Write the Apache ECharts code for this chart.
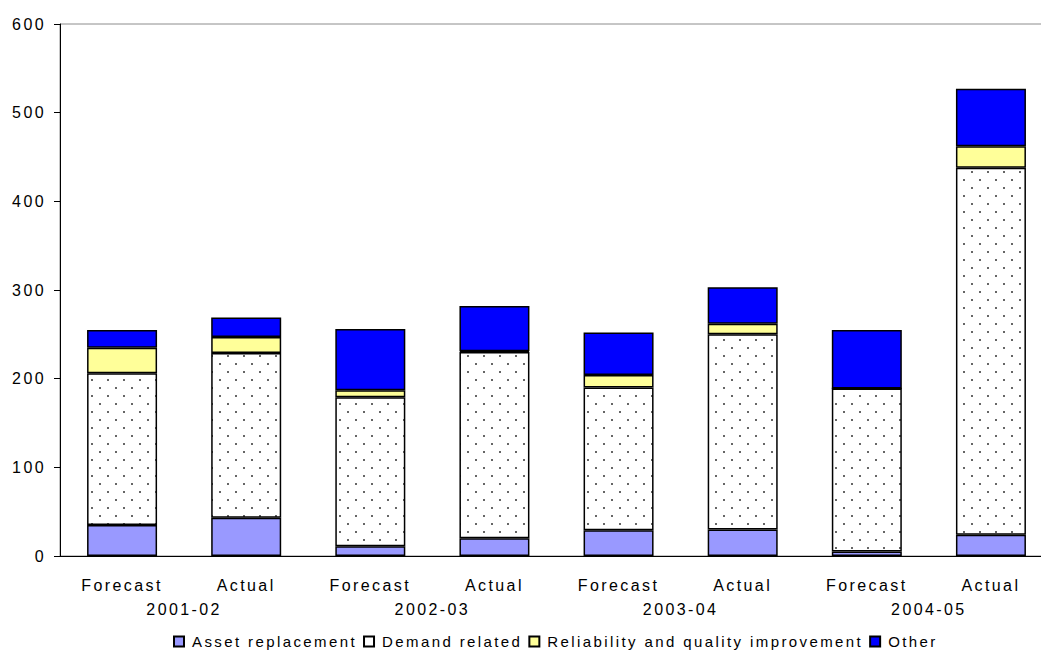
<!DOCTYPE html>
<html>
<head>
<meta charset="utf-8">
<title>Capital expenditure: forecast vs actual</title>
<script src="https://cdn.jsdelivr.net/npm/echarts@6/dist/echarts.min.js"></script>
<style>
  html, body { margin: 0; padding: 0; background: #ffffff; overflow: hidden; }
  /* plot area runs past the right edge of the window */
  #chart { width: 1070px; height: 654px; }
  #chart text { letter-spacing: 2.4px; }
</style>
</head>
<body>
<div id="chart"></div>
<script>
// Bar categories and year groups along the horizontal axis
const categories = ['Forecast', 'Actual', 'Forecast', 'Actual', 'Forecast', 'Actual', 'Forecast', 'Actual'];
const years = ['2001-02', '2002-03', '2003-04', '2004-05'];

// Stacked components of each bar
const assetReplacement = [35, 43, 11, 20, 29, 30, 5, 24];
const demandRelated = [171, 186, 168, 210, 161, 220, 184, 414];
const reliabilityQuality = [29, 18, 8, 1, 14, 12, 0, 24];
const other = [20, 22, 69, 51, 48, 41, 66, 65];

const seriesNames = ['Asset replacement', 'Demand related', 'Reliability and quality improvement', 'Other'];
const seriesColors = ['#9999ff', null, '#ffff99', '#0000ff'];

// Value axis range
const yMin = 0, yMax = 600, yStep = 100;

const FONT_FAMILY = 'Liberation Sans, Arial, sans-serif';
const FONT_SIZE = 16;
const LEGEND_FONT_SIZE = 15;
const LETTER_SPACING = 2.4;

// Dotted fill for the "Demand related" segments
function dotPattern() {
  const c = document.createElement('canvas');
  c.width = 16; c.height = 16;
  const ctx = c.getContext('2d');
  ctx.fillStyle = '#ffffff';
  ctx.fillRect(0, 0, 16, 16);
  ctx.fillStyle = '#333333';
  [[4, 4], [12, 12]].forEach(([x, y]) => {
    ctx.beginPath();
    ctx.arc(x, y, 1.0, 0, Math.PI * 2);
    ctx.fill();
  });
  return c.toDataURL();
}

// Width of a legend label including the extra letter spacing
const measureCtx = document.createElement('canvas').getContext('2d');
measureCtx.font = LEGEND_FONT_SIZE + 'px ' + FONT_FAMILY;
function labelWidth(s) {
  return measureCtx.measureText(s).width + s.length * LETTER_SPACING;
}

const chart = echarts.init(document.getElementById('chart'), null, { renderer: 'svg' });

function barSeries(name, data, color) {
  return {
    name, type: 'bar', stack: 'total', data,
    barWidth: 70,
    itemStyle: { color, borderColor: '#000000', borderWidth: 1.5 },
    emphasis: { disabled: true }
  };
}

const labelStyle = { color: '#000000', fontFamily: FONT_FAMILY, fontSize: FONT_SIZE };

// One legend block per series, laid out left to right
const LEGEND_LEFT = 173, ICON = 10, ICON_TEXT_GAP = 8, ITEM_GAP = 7;
const legends = [];
let cursor = LEGEND_LEFT;
seriesNames.forEach((name, i) => {
  legends.push({
    left: cursor, top: 634, padding: 0,
    itemWidth: ICON, itemHeight: ICON,
    selectedMode: false,
    textStyle: { color: '#000000', fontFamily: FONT_FAMILY, fontSize: LEGEND_FONT_SIZE, padding: [0, 0, 0, ICON_TEXT_GAP - 5] },
    data: [i === 1 ? { name, icon: 'rect', itemStyle: { color: '#ffffff' } } : { name, icon: 'rect' }]
  });
  cursor += ICON + ICON_TEXT_GAP + labelWidth(name) + ITEM_GAP;
});

chart.setOption({
  animation: false,
  backgroundColor: '#ffffff',
  grid: {
    left: 60, top: 24, width: 993, height: 532,
    show: true, borderColor: '#8c8c8c', borderWidth: 1
  },
  xAxis: [
    {
      type: 'category', data: categories, gridIndex: 0,
      axisLine: { lineStyle: { color: '#000000', width: 1 } },
      axisTick: { show: false },
      axisLabel: Object.assign({ margin: 21, interval: 0 }, labelStyle)
    },
    {
      type: 'category', data: years, gridIndex: 0, position: 'bottom',
      axisLine: { show: false }, axisTick: { show: false },
      axisLabel: Object.assign({ margin: 45, interval: 0 }, labelStyle)
    }
  ],
  yAxis: {
    type: 'value', min: yMin, max: yMax, interval: yStep,
    axisLine: { show: true, lineStyle: { color: '#000000', width: 1 } },
    axisTick: { show: true, length: 6, lineStyle: { color: '#000000' } },
    splitLine: { show: false },
    axisLabel: Object.assign({ margin: 14 }, labelStyle)
  },
  legend: legends,
  series: [
    barSeries(seriesNames[0], assetReplacement, seriesColors[0]),
    barSeries(seriesNames[1], demandRelated, { image: dotPattern(), repeat: 'repeat' }),
    barSeries(seriesNames[2], reliabilityQuality, seriesColors[2]),
    barSeries(seriesNames[3], other, seriesColors[3])
  ]
});
</script>
</body>
</html>
